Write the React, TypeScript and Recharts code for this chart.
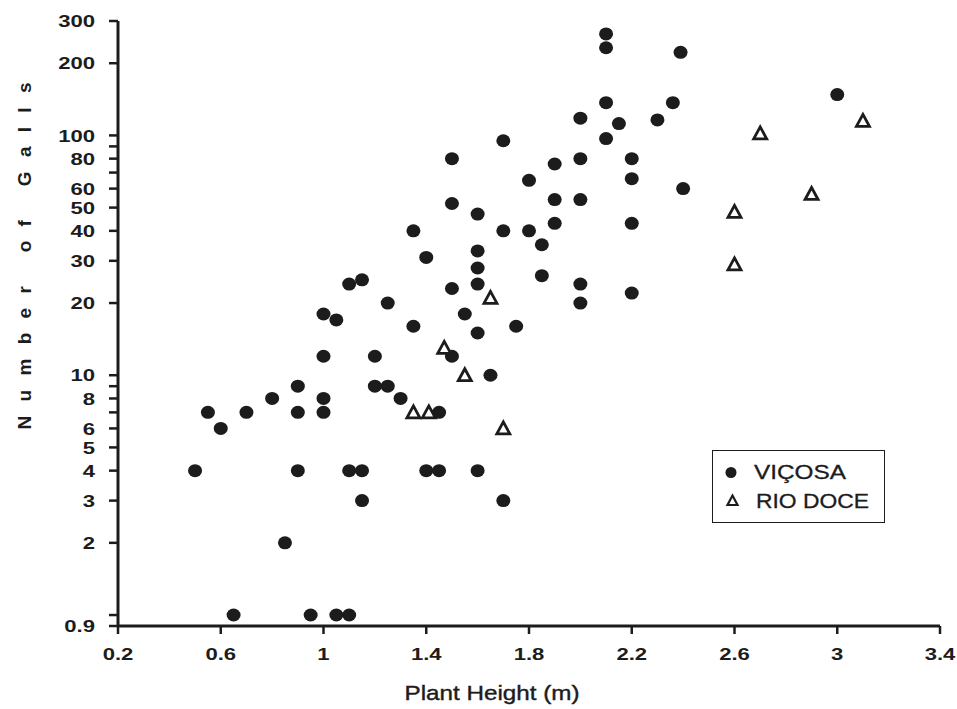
import React from 'react'
import { ScatterChart, Scatter, XAxis, YAxis, Legend, Label } from 'recharts'

// Viçosa (filled circles)
const vicosaHeight = [
  0.5, 0.55, 0.6, 0.65, 0.7, 0.8, 0.85, 0.9, 0.9, 0.9, 0.95, 1.0, 1.0, 1.0, 1.0, 1.05, 1.05, 1.1, 1.1, 1.1,
  1.15, 1.15, 1.15, 1.2, 1.2, 1.25, 1.25, 1.3, 1.35, 1.35, 1.4, 1.4, 1.45, 1.45, 1.5, 1.5, 1.5, 1.5, 1.55,
  1.6, 1.6, 1.6, 1.6, 1.6, 1.6, 1.65, 1.7, 1.7, 1.7, 1.75, 1.8, 1.8, 1.85, 1.85, 1.9, 1.9, 1.9, 2.0, 2.0,
  2.0, 2.0, 2.0, 2.1, 2.1, 2.1, 2.1, 2.15, 2.2, 2.2, 2.2, 2.2, 2.3, 2.36, 2.39, 2.4, 3.0,
]
const vicosaGalls = [
  4, 7, 6, 1, 7, 8, 2, 9, 7, 4, 1, 18, 12, 8, 7, 17, 1, 1, 24, 4,
  25, 4, 3, 12, 9, 20, 9, 8, 40, 16, 31, 4, 7, 4, 80, 52, 23, 12, 18,
  47, 33, 28, 24, 15, 4, 10, 95, 40, 3, 16, 65, 40, 35, 26, 76, 54, 43, 118, 80,
  54, 24, 20, 265, 232, 137, 97, 112, 80, 66, 43, 22, 116, 137, 222, 60, 148,
]

// Rio Doce (open triangles)
const rioDoceHeight = [1.35, 1.41, 1.47, 1.55, 1.65, 1.7, 2.6, 2.6, 2.7, 2.9, 3.1]
const rioDoceGalls = [7, 7, 13, 10, 21, 6, 48, 29, 102, 57, 115]

const xTicks = [0.2, 0.6, 1, 1.4, 1.8, 2.2, 2.6, 3, 3.4]
const yTicks = [0.9, 1, 2, 3, 4, 5, 6, 7, 8, 9, 10, 20, 30, 40, 50, 60, 70, 80, 90, 100, 200, 300]
const yLabels = [0.9, 2, 3, 4, 5, 6, 8, 10, 20, 30, 40, 50, 60, 80, 100, 200, 300]

const vicosa = vicosaHeight.map((h, i) => ({ height: h, galls: vicosaGalls[i] }))
const rioDoce = rioDoceHeight.map((h, i) => ({ height: h, galls: rioDoceGalls[i] }))

const INK = '#1c1c1c'
const FONT = '"Liberation Sans", Arial, sans-serif'

const Dot = (props: any) => <ellipse cx={props.cx} cy={props.cy} rx={7} ry={6.5} fill={INK} />

const Tri = (props: any) => {
  const { cx, cy } = props
  return (
    <path
      d={`M${cx},${cy - 6.5} L${cx + 6.5},${cy + 5.5} L${cx - 6.5},${cy + 5.5} Z`}
      fill="#fff"
      stroke={INK}
      strokeWidth={2.8}
      strokeLinejoin="miter"
    />
  )
}

const YTick = ({ y, payload }: any) => {
  if (!yLabels.includes(payload.value)) return <g />
  return (
    <text
      transform={`translate(95, ${y}) scale(1.3, 1)`}
      dy="0.36em"
      textAnchor="end"
      fontFamily={FONT}
      fontWeight="bold"
      fontSize={17}
      fill={INK}
    >
      {String(payload.value)}
    </text>
  )
}

const XTick = ({ x, payload }: any) => (
  <text
    transform={`translate(${x}, 660) scale(1.3, 1)`}
    textAnchor="middle"
    fontFamily={FONT}
    fontWeight="bold"
    fontSize={17}
    fill={INK}
  >
    {String(payload.value)}
  </text>
)

const LegendBox = () => (
  <div
    style={{
      width: 173,
      height: 73,
      border: `1.5px solid ${INK}`,
      boxSizing: 'border-box',
      background: '#fff',
    }}
  >
    <svg width={170} height={70}>
      <circle cx={18} cy={21.5} r={5.5} fill={INK} />
      <text
        x={41}
        y={28}
        fontFamily={FONT}
        fontSize={20}
        fill={INK}
        stroke={INK}
        strokeWidth={0.3}
        textLength={92}
        lengthAdjust="spacingAndGlyphs"
      >
        VIÇOSA
      </text>
      <path d="M19.5,44.5 L24.5,54 L14.5,54 Z" fill="#fff" stroke={INK} strokeWidth={2.2} />
      <text
        x={43}
        y={57}
        fontFamily={FONT}
        fontSize={20}
        fill={INK}
        stroke={INK}
        strokeWidth={0.3}
        textLength={113}
        lengthAdjust="spacingAndGlyphs"
      >
        RIO DOCE
      </text>
    </svg>
  </div>
)

export default function App() {
  return (
    <div style={{ position: 'absolute', left: 0, top: 0, background: '#fff' }}>
      <ScatterChart width={957} height={709} margin={{ top: 21, right: 17, bottom: 43, left: 58 }}>
        <XAxis
          type="number"
          dataKey="height"
          domain={[0.2, 3.4]}
          ticks={xTicks}
          interval={0}
          allowDataOverflow
          height={40}
          tick={<XTick />}
          tickSize={8}
          axisLine={{ stroke: INK, strokeWidth: 3 }}
          tickLine={{ stroke: INK, strokeWidth: 2.5 }}
        >
          <Label
            content={() => (
              <text
                x={492}
                y={700}
                textAnchor="middle"
                fontFamily={FONT}
                fontSize={21}
                fill={INK}
                stroke={INK}
                strokeWidth={0.4}
                textLength={175}
                lengthAdjust="spacingAndGlyphs"
              >
                Plant Height (m)
              </text>
            )}
          />
        </XAxis>
        <YAxis
          type="number"
          dataKey="galls"
          scale="log"
          domain={[0.9, 300]}
          ticks={yTicks}
          interval={0}
          allowDataOverflow
          width={60}
          tick={<YTick />}
          tickSize={9}
          axisLine={{ stroke: INK, strokeWidth: 3 }}
          tickLine={{ stroke: INK, strokeWidth: 2.5 }}
        >
          <Label
            content={() => (
              <text
                transform="translate(31, 256) rotate(-90)"
                textAnchor="middle"
                fontFamily={FONT}
                fontWeight="bold"
                fontSize={19}
                fill={INK}
                textLength={347}
                lengthAdjust="spacing"
              >
                Number of Galls
              </text>
            )}
          />
        </YAxis>
        <Legend
          layout="horizontal"
          verticalAlign="middle"
          align="center"
          content={<LegendBox />}
          wrapperStyle={{ position: 'absolute', left: 712, top: 450, width: 173, height: 73 }}
        />
        <Scatter name="VIÇOSA" data={vicosa} shape={<Dot />} isAnimationActive={false} />
        <Scatter name="RIO DOCE" data={rioDoce} shape={<Tri />} isAnimationActive={false} />
      </ScatterChart>
    </div>
  )
}
